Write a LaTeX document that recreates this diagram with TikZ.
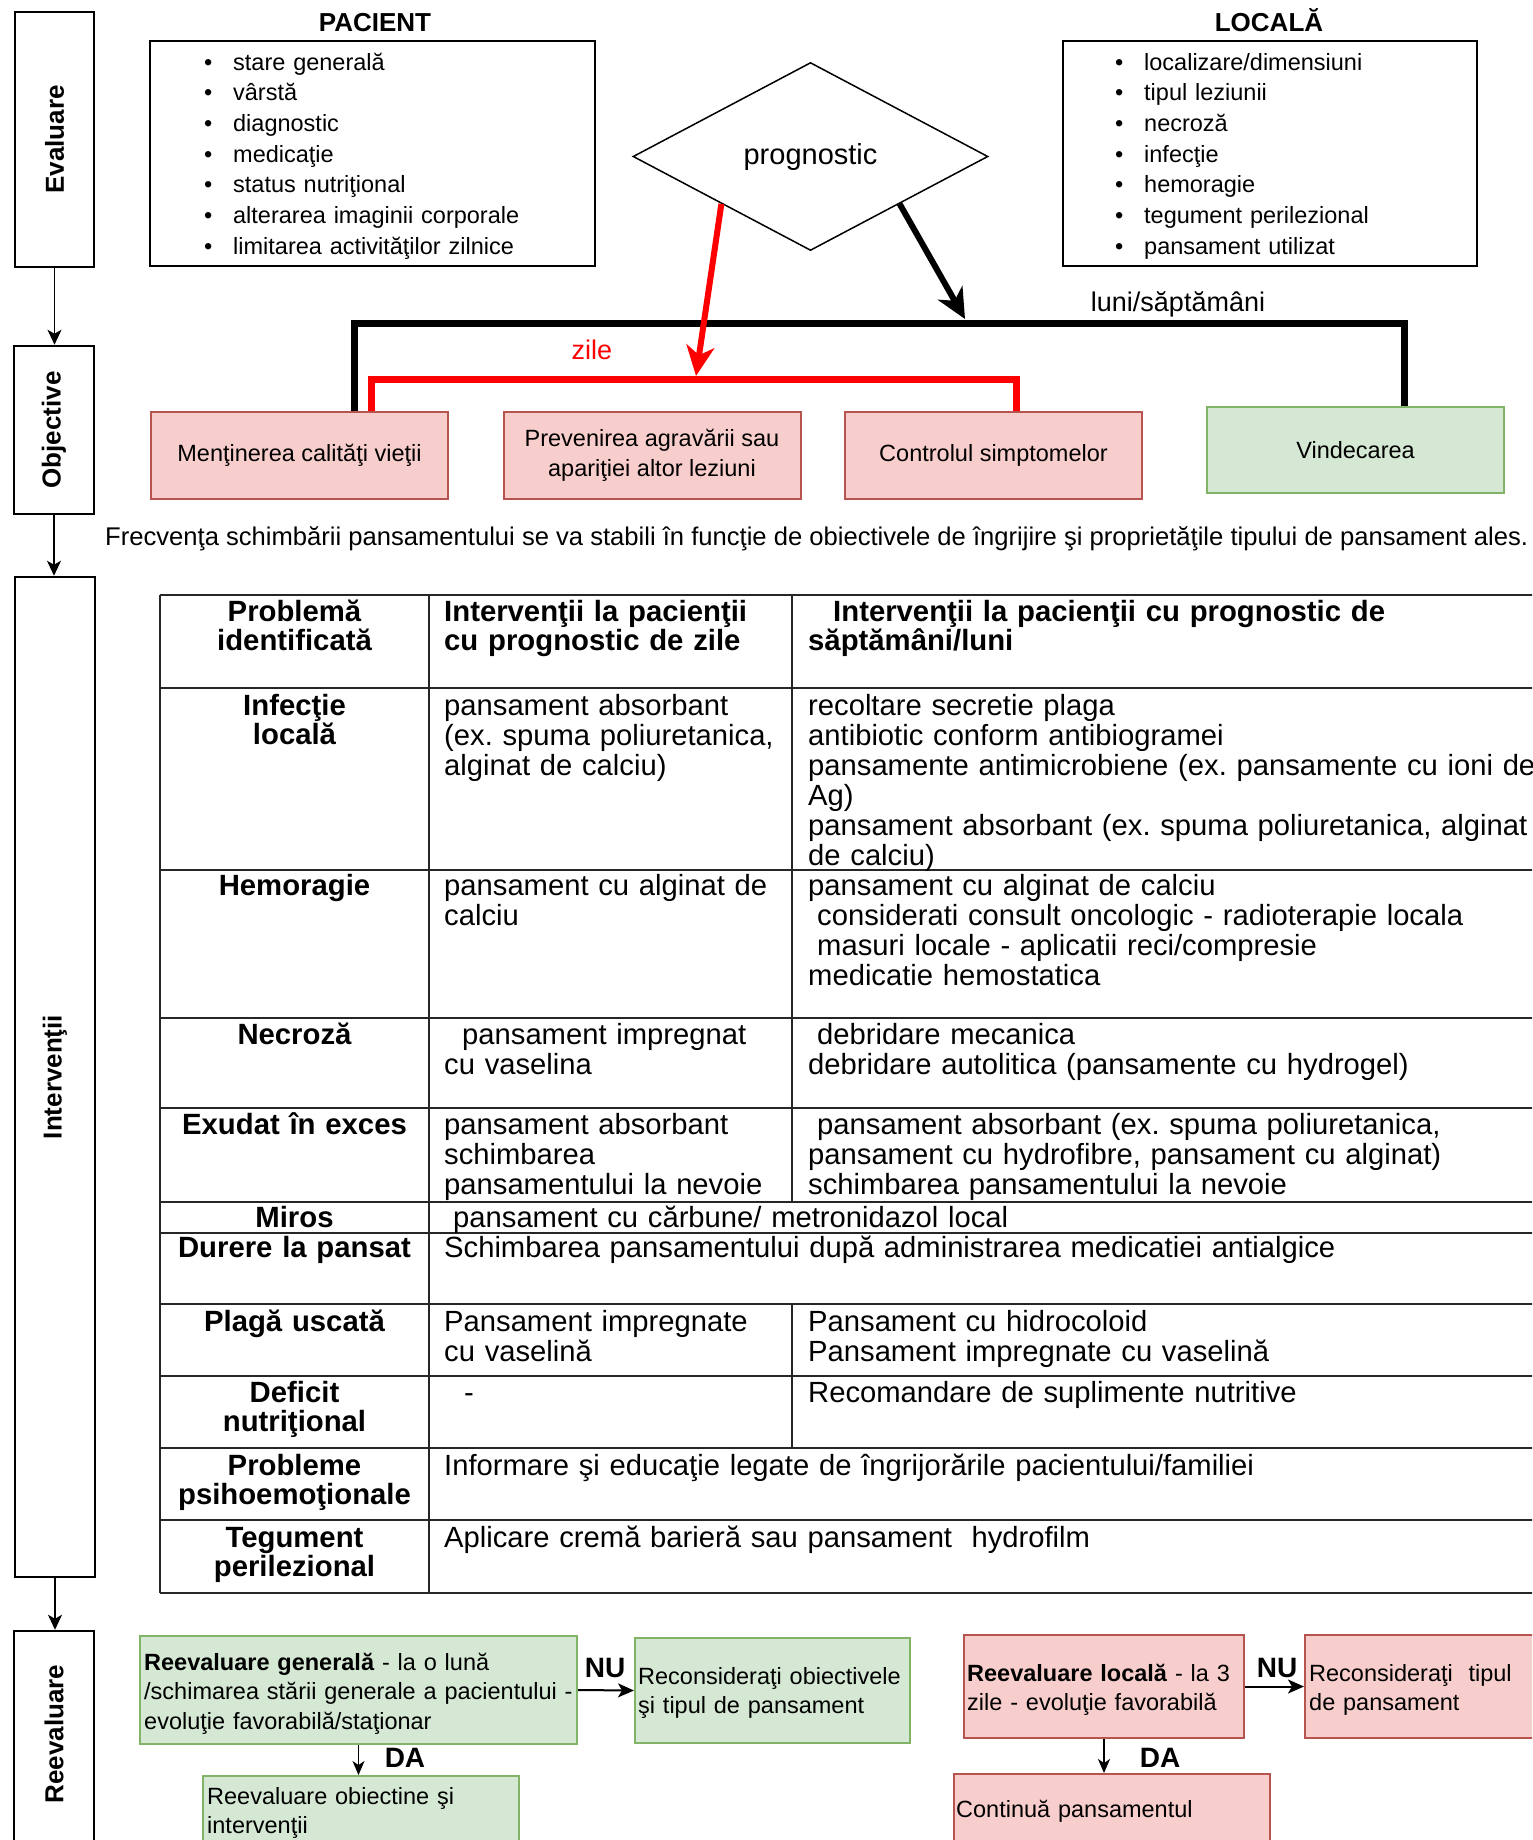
\documentclass[tikz,border=0pt]{standalone}
\usepackage{fontspec}
\setmainfont{Liberation Sans}
\usetikzlibrary{shapes.geometric,arrows.meta}
\definecolor{pinkfill}{HTML}{F8CECC}
\definecolor{pinkline}{HTML}{B85450}
\definecolor{greenfill}{HTML}{D5E8D4}
\definecolor{greenline}{HTML}{82B366}
\definecolor{redline}{HTML}{FF0000}
\newcommand{\myfs}[2]{\fontsize{#1pt}{#2pt}\selectfont}
\newcommand{\blt}{\makebox[29pt][l]{\textbullet}}
\frenchspacing
\hyphenpenalty=10000
\exhyphenpenalty=10000
\begin{document}
\begin{tikzpicture}[x=1pt,y=-1pt,
  sidebox/.style={draw=black,line width=2.5pt,fill=white,inner sep=0pt},
  sidelabel/.style={rotate=90,font=\bfseries\myfs{26}{26},inner sep=0pt},
  sidearrow/.style={line width=1.6pt,-{Stealth[length=15pt,width=14pt,inset=4pt]}},
  listbox/.style={draw=black,line width=2.5pt,inner sep=0pt},
  listtext/.style={font=\myfs{23.5}{30.7},text width=380pt,align=left,inner sep=0pt,anchor=base west},
  titletext/.style={font=\bfseries\myfs{26}{26},inner sep=0pt,anchor=base},
  pinkbox/.style={draw=pinkline,fill=pinkfill,line width=2pt,inner sep=0pt,minimum width=297pt,minimum height=87pt,align=center,font=\myfs{23.5}{30}},
  greenbox/.style={draw=greenline,fill=greenfill,line width=2pt,inner sep=0pt,align=center,font=\myfs{23.5}{30}},
  blackbr/.style={line width=7pt,draw=black},
  redbr/.style={line width=7pt,draw=redline},
  redarrow/.style={line width=6pt,draw=redline,fill=redline,-{Stealth[length=30pt,width=28pt,inset=9pt]}},
  blkarrow/.style={line width=6pt,draw=black,-{Stealth[length=30pt,width=28pt,inset=9pt]}},
  tblline/.style={line width=1.6pt,draw=black!85},
  cellc/.style={font=\bfseries\myfs{29.3}{29.5},text width=269pt,align=center,inner sep=0pt,anchor=base},
  cellh/.style={font=\bfseries\myfs{29.3}{29.5},text width=1100pt,align=left,inner sep=0pt,anchor=base west},
  celll/.style={font=\myfs{29.2}{30},text width=1100pt,align=left,inner sep=0pt,anchor=base west},
  boxtext/.style={font=\myfs{23.5}{29.5},text width=440pt,align=left,inner sep=0pt,anchor=base west},
  nuda/.style={font=\bfseries\myfs{28}{28},inner sep=0pt},
  nuarrow/.style={line width=2pt,-{Stealth[length=16pt,width=14pt,inset=4pt]}},
  daarrow/.style={line width=1.8pt,-{Stealth[length=14pt,width=12pt,inset=4pt]}}
]
\fill[white] (0,0) rectangle (1532,1840);
\useasboundingbox (0,0) rectangle (1532,1840);
\clip (0,0) rectangle (1532,1840);

% side column
\node[sidebox,minimum width=79pt,minimum height=255pt] (eval) at (54.5,139.5) {};
\node[sidelabel] (evallbl) at (eval) {Evaluare};
\node[sidebox,minimum width=80pt,minimum height=168pt] (obj) at (54,430) {};
\node[sidelabel] (objlbl) at (obj) {Objective};
\node[sidebox,minimum width=80pt,minimum height=1000pt] (interv) at (55,1077) {};
\node[sidelabel] (intervlbl) at (interv) {Intervenţii};
\node[sidebox,minimum width=80pt,minimum height=212pt] (reev) at (54,1737) {};
\node[sidelabel] (reevlbl) at (54,1734) {Reevaluare};
\draw[sidearrow] (eval.south) -- (eval.south |- obj.north);
\draw[sidearrow] (obj.south) -- (obj.south |- interv.north);
\draw[sidearrow] (interv.south) -- (interv.south |- reev.north);

% evaluation boxes
\node[titletext] (pactitle) at (375,31) {PACIENT};
\node[listbox,minimum width=445pt,minimum height=225pt] (pac) at (372.5,153.5) {};
\node[listtext] (paclist) at (204,70) {\blt stare generală\\\blt vârstă\\\blt diagnostic\\\blt medicaţie\\\blt status nutriţional\\\blt alterarea imaginii corporale\\\blt limitarea activităţilor zilnice};
\node[titletext] (loctitle) at (1269,31) {LOCALĂ};
\node[listbox,minimum width=414pt,minimum height=225pt] (locb) at (1270,153.5) {};
\node[listtext] (loclist) at (1115,70) {\blt localizare/dimensiuni\\\blt tipul leziunii\\\blt necroză\\\blt infecţie\\\blt hemoragie\\\blt tegument perilezional\\\blt pansament utilizat};

% prognostic
\node[draw,diamond,line width=1.5pt,minimum width=355pt,minimum height=188pt,inner sep=0pt,font=\myfs{29}{29}] (prog) at (810.5,156.5) {prognostic};

% objectives
\node[pinkbox] (ment) at (299.5,455.5) {Menţinerea calităţi vieţii};
\node[pinkbox] (prev) at (652,455.5) {Prevenirea agravării sau\\apariţiei altor leziuni};
\node[pinkbox] (ctrl) at (993.5,455.5) {Controlul simptomelor};
\node[greenbox,minimum width=297pt,minimum height=86pt] (vind) at (1355.5,450) {Vindecarea};

\coordinate (blky) at (0,323);
\coordinate (redy) at (0,379);
\draw[blackbr] ([xshift=55pt]ment.north) -- ([xshift=55pt]ment.north |- blky) -| ([xshift=48.5pt]vind.north);
\draw[redbr] ([xshift=72pt]ment.north) -- ([xshift=72pt]ment.north |- redy) -| ([xshift=22.5pt]ctrl.north);
\coordinate (redtip) at (696,376);
\coordinate (blktip) at (965,319);
\draw[redarrow] (prog.south west) -- (redtip);
\draw[blkarrow] (prog.south east) -- (blktip);
\node[font=\myfs{27}{27},text=redline,inner sep=0pt] (zile) at (592,350) {zile};
\node[font=\myfs{27}{27},inner sep=0pt] (luni) at (1178,304) {luni/săptămâni};

\node[font=\myfs{25.6}{25.6},anchor=base west,inner sep=0pt] (freq) at (105,545) {Frecvenţa schimbării pansamentului se va stabili în funcţie de obiectivele de îngrijire şi proprietăţile tipului de pansament ales.};

% table
\foreach \yy in {595,688,870,1018,1108,1202,1233,1304,1376,1448,1520,1593}
  \draw[tblline] (160,\yy) -- (1540,\yy);
\draw[tblline] (160,595) -- (160,1593);
\draw[tblline] (429,595) -- (429,1593);
\draw[tblline] (792,595) -- (792,1202);
\draw[tblline] (792,1304) -- (792,1448);

\node[cellc] (h1) at (294.5,621) {Problemă\\identificată};
\node[cellh] (h2) at (444,621) {Intervenţii la pacienţii\\cu prognostic de zile};
\node[cellh] (h3) at (808,621) {\hspace*{25pt}Intervenţii la pacienţii cu prognostic de\\săptămâni/luni};

\node[cellc] (r1a) at (294.5,715) {Infecţie\\locală};
\node[celll] (r1b) at (444,715) {pansament absorbant\\(ex. spuma poliuretanica,\\alginat de calciu)};
\node[celll] (r1c) at (808,715) {recoltare secretie plaga\\antibiotic conform antibiogramei\\pansamente antimicrobiene (ex. pansamente cu ioni de\\Ag)\\pansament absorbant (ex. spuma poliuretanica, alginat\\de calciu)};

\node[cellc] (r2a) at (294.5,895) {Hemoragie};
\node[celll] (r2b) at (444,895) {pansament cu alginat de\\calciu};
\node[celll] (r2c) at (808,895) {pansament cu alginat de calciu\\\hspace*{9pt}considerati consult oncologic - radioterapie locala\\\hspace*{9pt}masuri locale - aplicatii reci/compresie\\medicatie hemostatica};

\node[cellc] (r3a) at (294.5,1044) {Necroză};
\node[celll] (r3b) at (444,1044) {\hspace*{18pt}pansament impregnat\\cu vaselina};
\node[celll] (r3c) at (808,1044) {\hspace*{9pt}debridare mecanica\\debridare autolitica (pansamente cu hydrogel)};

\node[cellc] (r4a) at (294.5,1134) {Exudat în exces};
\node[celll] (r4b) at (444,1134) {pansament absorbant\\schimbarea\\pansamentului la nevoie};
\node[celll] (r4c) at (808,1134) {\hspace*{9pt}pansament absorbant (ex. spuma poliuretanica,\\pansament cu hydrofibre, pansament cu alginat)\\schimbarea pansamentului la nevoie};

\node[cellc] (r5a) at (294.5,1227) {Miros};
\node[celll] (r5b) at (444,1227) {\hspace*{9pt}pansament cu cărbune/ metronidazol local};

\node[cellc] (r6a) at (294.5,1257) {Durere la pansat};
\node[celll] (r6b) at (444,1257) {Schimbarea pansamentului după administrarea medicatiei antialgice};

\node[cellc] (r7a) at (294.5,1331) {Plagă uscată};
\node[celll] (r7b) at (444,1331) {Pansament impregnate\\cu vaselină};
\node[celll] (r7c) at (808,1331) {Pansament cu hidrocoloid\\Pansament impregnate cu vaselină};

\node[cellc] (r8a) at (294.5,1402) {Deficit\\nutriţional};
\node[celll] (r8b) at (444,1402) {\hspace*{20pt}-};
\node[celll] (r8c) at (808,1402) {Recomandare de suplimente nutritive};

\node[cellc] (r9a) at (294.5,1475) {Probleme\\psihoemoţionale};
\node[celll] (r9b) at (444,1475) {Informare şi educaţie legate de îngrijorările pacientului/familiei};

\node[cellc] (r10a) at (294.5,1547) {Tegument\\perilezional};
\node[celll] (r10b) at (444,1547) {Aplicare cremă barieră sau pansament\ \ hydrofilm};

% reevaluation
\node[greenbox,minimum width=437pt,minimum height=108pt] (gen) at (358.5,1690) {};
\node[boxtext] (gentxt) at (144,1670) {\textbf{Reevaluare generală} - la o lună\\/schimarea stării generale a pacientului -\\evoluţie favorabilă/staţionar};
\node[greenbox,minimum width=275pt,minimum height=105pt] (rec1) at (772.5,1690.5) {};
\node[boxtext] (rec1txt) at (638,1684) {Reconsideraţi obiectivele\\şi tipul de pansament};
\node[greenbox,minimum width=316pt,minimum height=80pt] (reobj) at (361,1816) {};
\node[boxtext] (reobjtxt) at (207,1804) {Reevaluare obiectine şi\\intervenţii};

\node[pinkbox,minimum width=280pt,minimum height=103pt] (loc) at (1104,1686.5) {};
\node[boxtext] (loctxt) at (967,1681) {\textbf{Reevaluare locală} - la 3\\zile - evoluţie favorabilă};
\node[pinkbox,minimum width=255pt,minimum height=103pt] (rec2) at (1432.5,1686.5) {};
\node[boxtext] (rec2txt) at (1309,1681) {Reconsideraţi\ \ tipul\\de pansament};
\node[pinkbox,minimum width=316pt,minimum height=80pt] (cont) at (1112,1814) {};
\node[boxtext] (conttxt) at (956,1817) {Continuă pansamentul};

\draw[nuarrow] (gen.east) -- (rec1.west);
\draw[daarrow] (gen.south) -- (gen.south |- reobj.north);
\draw[nuarrow] (loc.east) -- (rec2.west);
\draw[daarrow] (loc.south) -- (loc.south |- cont.north);
\node[nuda] (nu1) at (605,1668) {NU};
\node[nuda] (da1) at (405,1758) {DA};
\node[nuda] (nu2) at (1277,1668) {NU};
\node[nuda] (da2) at (1160,1758) {DA};
\end{tikzpicture}
\end{document}
